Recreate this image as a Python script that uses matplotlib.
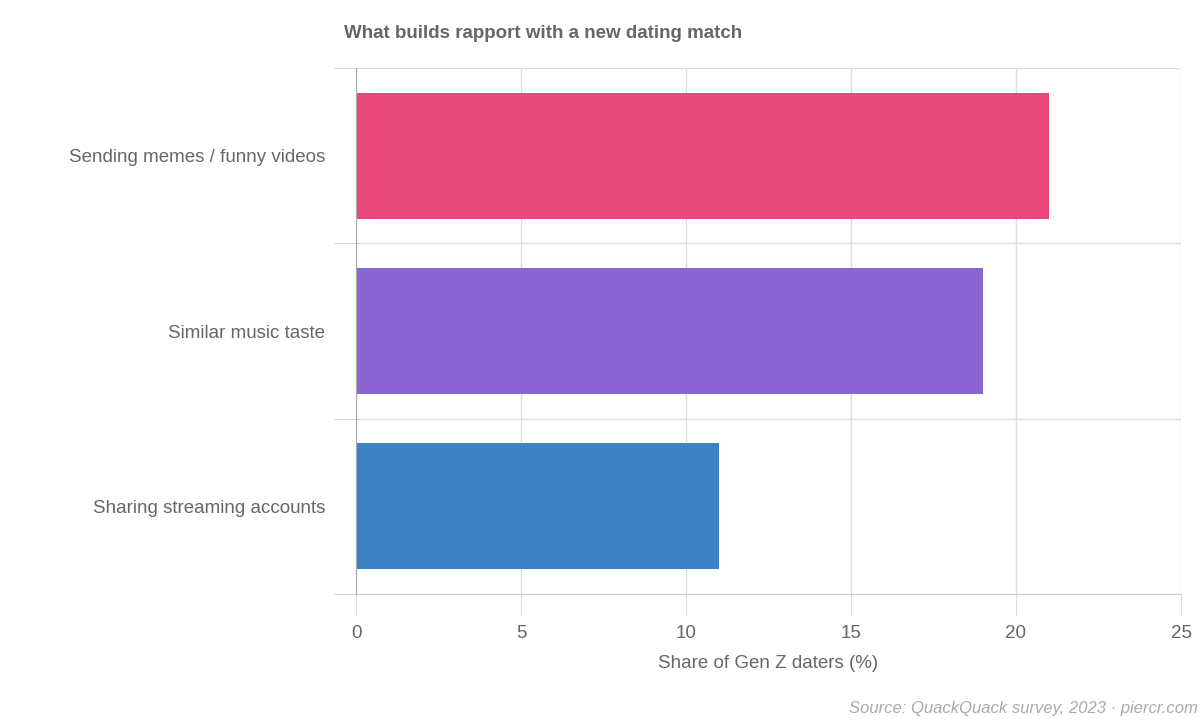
import matplotlib
matplotlib.use("Agg")
import matplotlib.pyplot as plt
from matplotlib.ticker import FixedLocator

categories = ["Sending memes / funny videos", "Similar music taste", "Sharing streaming accounts"]
values = [21, 19, 11]
colors = ["#E8497A", "#8A65D4", "#3D82C4"]
xticks = [0, 5, 10, 15, 20, 25]

plt.rcParams['font.family'] = ['Liberation Sans', 'DejaVu Sans']
fig = plt.figure(figsize=(12, 7.2), dpi=100)
ax = fig.add_axes([356/1200, 1-594/720, (1181-356)/1200, (594-68)/720])

n = len(categories)
ypos = list(range(n))[::-1]
ax.barh(ypos, values, height=0.72, color=colors, zorder=3)
ax.set_xlim(0, 25)
ax.set_ylim(-0.5, n - 0.5)
ax.set_xticks(xticks)
ax.set_yticks(ypos)
ax.set_yticklabels(categories)
ax.yaxis.set_minor_locator(FixedLocator([i - 0.5 for i in range(n + 1)]))
ax.grid(axis='x', color='#dddddd', lw=1, zorder=0)
ax.grid(axis='y', which='minor', color='#dddddd', lw=1, zorder=0)
ax.tick_params(axis='y', which='major', length=0, pad=22, labelsize=13.5, labelcolor='#666666')
ax.tick_params(axis='y', which='minor', length=16, color='#cccccc')
ax.tick_params(axis='x', length=16, color='#dddddd', labelsize=13.5, labelcolor='#666666', pad=6)
for s in ['top', 'right']:
    ax.spines[s].set_visible(False)
ax.spines['left'].set_color('#aaaaaa')
ax.spines['bottom'].set_color('#cccccc')
ax.spines['left'].set_zorder(4)
ax.set_xlabel("Share of Gen Z daters (%)", fontsize=13.5, color='#666666', labelpad=10)

fig.text(344/1200, 1-34/720, "What builds rapport with a new dating match", fontsize=13.5,
         fontweight='bold', color='#666666', va='center', ha='left')
fig.text(1198/1200, 1-708/720, "Source: QuackQuack survey, 2023 · piercr.com", fontsize=12,
         style='italic', color='#aaaaaa', va='center', ha='right')
fig.savefig("out.png", dpi=100)
